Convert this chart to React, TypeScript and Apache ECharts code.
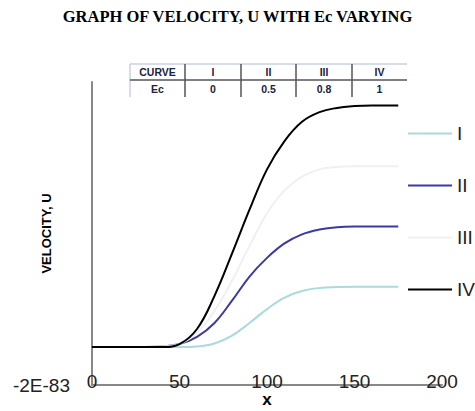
import React, { useEffect, useRef } from "react";
import * as echarts from "echarts";

const xValues = [0, 20, 40, 50, 60, 70, 80, 90, 100, 110, 120, 130, 140, 150, 160, 175];
const curveI = [0, 0, 0, 0, 0.01, 0.06, 0.19, 0.4, 0.63, 0.82, 0.93, 0.98, 0.995, 1.0, 1.0, 1.0];
const curveII = [0, 0, 0.01, 0.05, 0.17, 0.4, 0.77, 1.17, 1.48, 1.72, 1.87, 1.95, 1.99, 2.0, 2.0, 2.0];
const curveIII = [0, 0, 0.01, 0.05, 0.24, 0.6, 1.1, 1.68, 2.22, 2.6, 2.83, 2.95, 2.99, 3.0, 3.0, 3.0];
const curveIV = [0, 0, 0, 0.05, 0.3, 0.85, 1.55, 2.28, 2.95, 3.42, 3.74, 3.9, 3.97, 4.0, 4.01, 4.01];

const seriesNames = ["I", "II", "III", "IV"];
const seriesColors = ["#a9dadd", "#3a3aa6", "#f0f0f0", "#000000"];

const tableHeader = ["CURVE", "I", "II", "III", "IV"];
const tableRow = ["Ec", "0", "0.5", "0.8", "1"];

const yMinLabel = "-2E-83";
const Y_MIN = -0.63;
const Y_MAX = 4.4;

export default function App() {
  const ref = useRef<HTMLDivElement>(null);
  useEffect(() => {
    const chart = echarts.init(ref.current!, null, { renderer: "svg" });
    const allData = [curveI, curveII, curveIII, curveIV];

    const colX = [130, 185, 241, 296, 352, 407];
    const rowY = [64, 80, 97];
    const tableEls: any[] = [];
    tableEls.push({ type: "line", shape: { x1: colX[0], y1: rowY[0], x2: colX[5], y2: rowY[0] }, style: { stroke: "#c9d1e3", lineWidth: 1.5 } });
    tableEls.push({ type: "line", shape: { x1: colX[0], y1: rowY[0], x2: colX[0], y2: rowY[2] }, style: { stroke: "#c9d1e3", lineWidth: 1.5 } });
    tableEls.push({ type: "line", shape: { x1: colX[0], y1: rowY[1], x2: colX[5], y2: rowY[1] }, style: { stroke: "#555", lineWidth: 1.5 } });
    for (let i = 1; i < 5; i++) {
      tableEls.push({ type: "line", shape: { x1: colX[i], y1: rowY[0], x2: colX[i], y2: rowY[2] }, style: { stroke: "#555", lineWidth: 1.5 } });
    }
    [tableHeader, tableRow].forEach((row, r) => {
      row.forEach((t, c) => {
        tableEls.push({
          type: "text",
          x: (colX[c] + colX[c + 1]) / 2,
          y: (rowY[r] + rowY[r + 1]) / 2,
          style: { text: t, fill: "#1b2240", font: "bold 10.5px 'Liberation Sans'", align: "center", verticalAlign: "middle" },
        });
      });
    });

    chart.setOption({
      animation: false,
      backgroundColor: "#fff",
      title: {
        text: "GRAPH OF VELOCITY, U WITH Ec VARYING",
        left: "center",
        top: 3,
        textStyle: { fontFamily: "Liberation Serif", fontWeight: "bold", fontSize: 16.5, color: "#000" },
      },
      grid: { left: 92, right: 33, top: 82, bottom: 26, outerBoundsMode: "none", containLabel: false },
      legend: {
        orient: "vertical",
        left: 403,
        top: 119,
        icon: "rect",
        itemWidth: 44,
        itemHeight: 2,
        itemGap: 33,
        data: seriesNames,
        textStyle: { fontFamily: "Liberation Sans", fontSize: 19, color: "#222" },
      },
      xAxis: {
        type: "value",
        min: 0,
        max: 200,
        interval: 50,
        name: "x",
        nameLocation: "middle",
        nameGap: 6,
        nameMoveOverlap: false,
        nameTextStyle: { fontFamily: "Liberation Sans", fontWeight: "bold", fontSize: 17, color: "#000" },
        axisLine: { show: true, onZero: false, lineStyle: { color: "#888", width: 2 } },
        axisTick: { show: false },
        splitLine: { show: false },
        axisLabel: { margin: -4, verticalAlign: "middle", fontFamily: "Liberation Sans", fontSize: 19, color: "#222", hideOverlap: false },
      },
      yAxis: {
        type: "value",
        min: Y_MIN,
        max: Y_MAX,
        name: "VELOCITY, U",
        nameLocation: "middle",
        nameGap: 39,
        nameMoveOverlap: false,
        nameTextStyle: { fontFamily: "Liberation Sans", fontWeight: "bold", fontSize: 13, color: "#000" },
        axisLine: { show: true, onZero: false, lineStyle: { color: "#888", width: 2 } },
        axisTick: { show: false },
        splitLine: { show: false },
        axisLabel: {
          margin: 22,
          showMinLabel: true,
          showMaxLabel: false,
          fontFamily: "Liberation Sans",
          fontSize: 19,
          color: "#222",
          formatter: (v: number) => (Math.abs(v - Y_MIN) < 1e-6 ? yMinLabel : ""),
        },
      },
      graphic: tableEls,
      series: seriesNames.map((n, i) => ({
        name: n,
        type: "line",
        smooth: 0.4,
        symbol: "none",
        data: xValues.map((x, j) => [x, allData[i][j]]),
        lineStyle: { color: seriesColors[i], width: 2 },
        itemStyle: { color: seriesColors[i] },
      })),
    });
    return () => chart.dispose();
  }, []);
  return <div ref={ref} style={{ width: 475, height: 411, position: "absolute", left: 0, top: 0 }} />;
}
